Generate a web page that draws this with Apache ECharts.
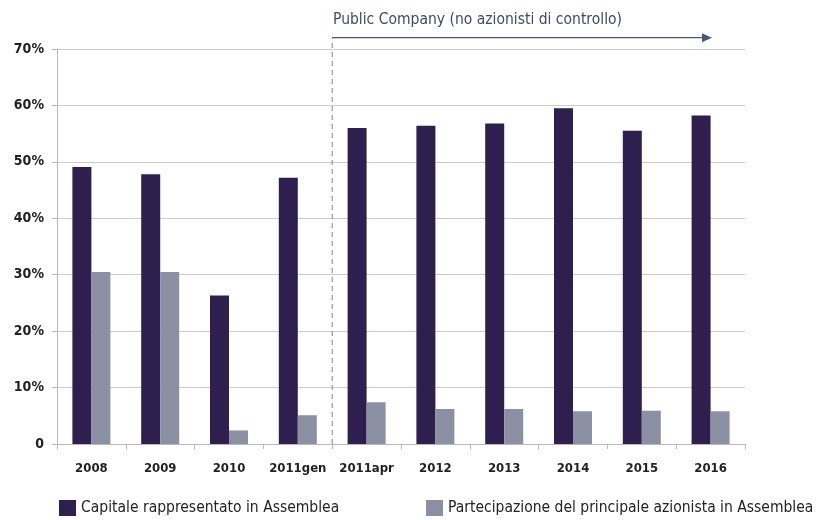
<!DOCTYPE html>
<html>
<head>
<meta charset="utf-8">
<script src="https://cdn.jsdelivr.net/npm/echarts@6/dist/echarts.min.js"></script>
<style>
  html, body { margin: 0; padding: 0; background: #fff; }
  #chart { width: 817px; height: 520px; }
</style>
</head>
<body>
<div id="chart"></div>
<script>
const categories = ["2008", "2009", "2010", "2011gen", "2011apr", "2012", "2013", "2014", "2015", "2016"];
const capitale = [49.1, 47.8, 26.3, 47.2, 56.0, 56.4, 56.8, 59.5, 55.5, 58.2];
const partecipazione = [30.5, 30.5, 2.4, 5.1, 7.4, 6.2, 6.2, 5.8, 5.9, 5.8];
const yTicks = [0, 10, 20, 30, 40, 50, 60, 70];
const seriesNames = ["Capitale rappresentato in Assemblea", "Partecipazione del principale azionista in Assemblea"];
const noteText = "Public Company (no azionisti di controllo)";
// public company period: from the boundary after "2011gen" to the arrow tip
const publicStart = 4;
const arrowEnd = 9.52;
const arrowLevel = 72;

const font = "'DejaVu Sans Condensed', 'Liberation Sans Narrow', sans-serif";
const textColor = "#222";

const chart = echarts.init(document.getElementById("chart"));

const legendBox = (name, left) => ({
  data: [name],
  left: left,
  top: 500,
  padding: 0,
  icon: "rect",
  itemWidth: 17,
  itemHeight: 16,
  textStyle: { fontFamily: font, fontSize: 15.5, color: textColor },
});

chart.setOption({
  animation: false,
  textStyle: { fontFamily: font },
  title: {
    text: noteText,
    left: 328,
    top: 7,
    textStyle: { fontFamily: font, fontSize: 15.5, fontWeight: "normal", color: "#3e4a6a" },
  },
  legend: [legendBox(seriesNames[0], 59), legendBox(seriesNames[1], 426)],
  grid: { left: 57, right: 72, top: 49, bottom: 76 },
  xAxis: [
    {
      type: "category",
      data: categories,
      axisLine: { lineStyle: { color: "#b8b8b8" } },
      axisTick: { show: true, length: 5, lineStyle: { color: "#b8b8b8" } },
      axisLabel: { color: textColor, fontSize: 13, margin: 18, fontWeight: "bold", interval: 0, hideOverlap: false },
    },
    {
      type: "value",
      min: 0,
      max: 10,
      show: false,
    },
  ],
  yAxis: {
    type: "value",
    min: 0,
    max: 70,
    interval: 10,
    axisLine: { show: true, lineStyle: { color: "#b8b8b8" } },
    axisTick: { show: true, length: 5, lineStyle: { color: "#b8b8b8" } },
    splitLine: { lineStyle: { color: "#cccccc" } },
    axisLabel: {
      color: textColor,
      fontSize: 14,
      fontWeight: "bold",
      margin: 13,
      formatter: (v) => (yTicks.includes(v) && v !== 0 ? v + "%" : "0"),
    },
  },
  series: [
    {
      name: seriesNames[0],
      type: "bar",
      data: capitale,
      barWidth: 19,
      barGap: "0%",
      itemStyle: { color: "#2e1f4f" },
    },
    {
      name: seriesNames[1],
      type: "bar",
      data: partecipazione,
      barWidth: 19,
      itemStyle: { color: "#8b90a3" },
    },
  ],
});

// dashed divider + arrow, placed through the grid's own scales
const toPx = (pt) => chart.convertToPixel({ xAxisIndex: 1, yAxisIndex: 0 }, pt);
const base = toPx([publicStart, 0]);
const corner = toPx([publicStart, arrowLevel]);
const tip = toPx([arrowEnd, arrowLevel]);

chart.setOption({
  graphic: [
    {
      type: "line",
      shape: { x1: base[0], y1: base[1], x2: corner[0], y2: corner[1] },
      style: { stroke: "#7a8296", lineWidth: 1, lineDash: [5, 4] },
      silent: true,
    },
    {
      type: "line",
      shape: { x1: corner[0], y1: corner[1], x2: tip[0] - 8, y2: tip[1] },
      style: { stroke: "#4a5878", lineWidth: 1.3 },
      silent: true,
    },
    {
      type: "polygon",
      shape: { points: [[tip[0], tip[1]], [tip[0] - 10, tip[1] - 4.5], [tip[0] - 10, tip[1] + 4.5]] },
      style: { fill: "#4a5878" },
      silent: true,
    },
  ],
});
</script>
</body>
</html>
